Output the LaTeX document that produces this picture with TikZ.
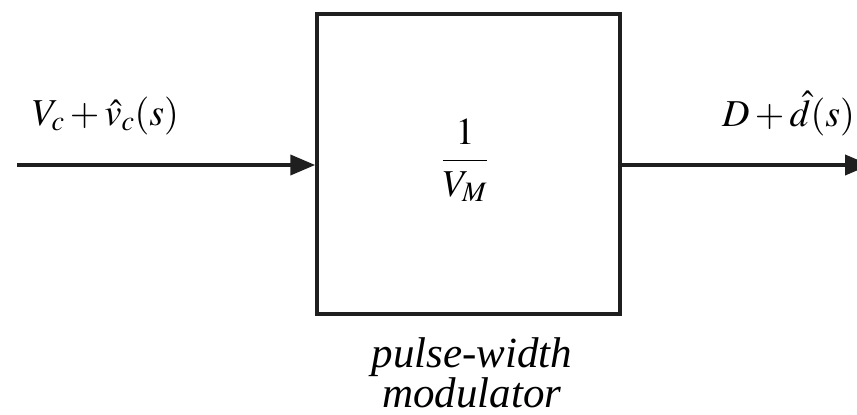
\documentclass[tikz,border=0pt]{standalone}
\usepackage{mathptmx}
\usepackage{fontspec}
\setmainfont{Liberation Serif}
\newfontfamily\capfont{Liberation Serif Italic}
\usetikzlibrary{arrows.meta}
\tikzset{
  wire/.style={line width=4pt, draw=black!88, -{Triangle[length=25pt,width=20pt]}},
  blockbox/.style={draw=black!88, line width=3.5pt, minimum width=303pt, minimum height=300pt, inner sep=0pt},
  lbl/.style={inner sep=0pt, font=\fontsize{38}{40}\selectfont},
  caplbl/.style={inner sep=0pt, align=center, font=\capfont\fontsize{43}{40}\selectfont},
}
\begin{document}
\begin{tikzpicture}[x=1pt,y=-1pt]
\useasboundingbox (0,0) rectangle (857,415);
\node[blockbox] (pwm) at (468.5,164) {};
\node[lbl, anchor=base] (gain) at (465,170) {$\displaystyle\frac{1}{V_M}$};
\coordinate (in) at (17,165);
\coordinate (out) at (870,165);
\draw[wire] (in) -- (pwm.west |- in);
\draw[wire] (pwm.east |- out) -- (out);
\node[lbl, anchor=base west] (vin) at (32,125) {$V_c + \hat{v}_c(s)$};
\node[lbl, anchor=base west] (dout) at (722,126) {$D + \hat{d}(s)$};
\node[caplbl, anchor=base] (cap) at (472,407) {pulse-width\\modulator};
\end{tikzpicture}
\end{document}
